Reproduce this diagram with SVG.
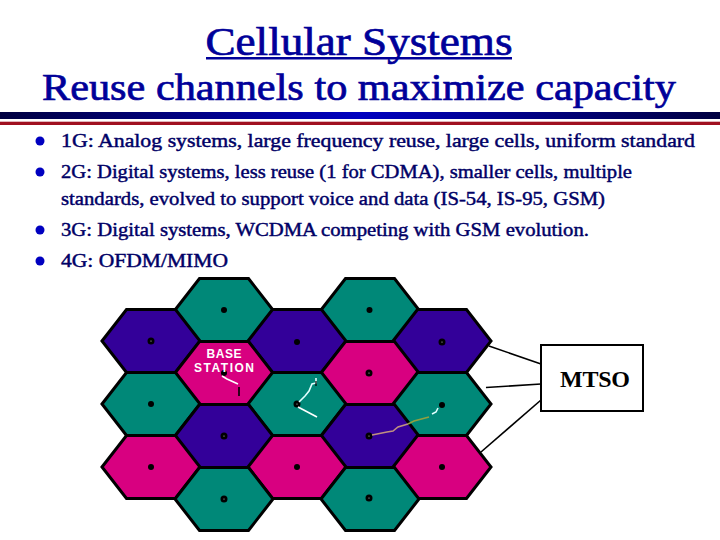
<svg xmlns="http://www.w3.org/2000/svg" width="720" height="540" viewBox="0 0 720 540">
<defs>
<linearGradient id="bar" x1="0" x2="1" y1="0" y2="0"><stop offset="0" stop-color="#000040"/><stop offset="0.5" stop-color="#0000c0"/><stop offset="1" stop-color="#000040"/></linearGradient>
<polygon id="hex" points="-49,0 -24.5,-31.5 24.5,-31.5 49,0 24.5,31.5 -24.5,31.5"/>
</defs>
<style>
text{font-family:"Liberation Serif","Times New Roman",serif}
.ti{fill:#000099;stroke:#000099;stroke-width:.7}
.b{font-size:19px;fill:#000066;stroke:#000066;stroke-width:.45}
.h{stroke:#000;stroke-width:3;stroke-linejoin:miter}
.t{fill:#008878}.m{fill:#d80080}.p{fill:#330099}
.s{fill:#000}
.r{fill:#fff;stroke:#000;stroke-width:3}
.l{stroke:#000;fill:none;stroke-width:1.6}
.w{font-family:"Liberation Sans",sans-serif;fill:#fff;font-weight:bold;font-size:12px}
</style>
<rect width="720" height="540" fill="#fff"/>
<g id="title">
<text class="ti" x="359" y="55" text-anchor="middle" font-size="40" textLength="307" lengthAdjust="spacingAndGlyphs">Cellular Systems</text>
<rect x="206" y="57" width="306" height="2.500" fill="#000099"/>
<text class="ti" x="359" y="100" text-anchor="middle" font-size="37" textLength="634" lengthAdjust="spacingAndGlyphs">Reuse channels to maximize capacity</text>
</g>
<rect x="0" y="112" width="720" height="7" fill="url(#bar)"/>
<rect x="0" y="121.700" width="720" height="3.300" fill="#a01020"/>
<g id="bullets" fill="#0000c0">
<circle cx="40" cy="141" r="4.500"/><circle cx="40" cy="172" r="4.500"/><circle cx="40" cy="230" r="4.500"/><circle cx="40" cy="261" r="4.500"/>
</g>
<g id="text">
<text class="b" x="61" y="147" textLength="634" lengthAdjust="spacingAndGlyphs">1G: Analog systems, large frequency reuse, large cells, uniform standard</text>
<text class="b" x="61" y="178" textLength="571" lengthAdjust="spacingAndGlyphs">2G: Digital systems, less reuse (1 for CDMA), smaller cells, multiple</text>
<text class="b" x="61" y="205" textLength="544" lengthAdjust="spacingAndGlyphs">standards, evolved to support voice and data (IS-54, IS-95, GSM)</text>
<text class="b" x="61" y="236" textLength="528" lengthAdjust="spacingAndGlyphs">3G: Digital systems, WCDMA competing with GSM evolution.</text>
<text class="b" x="61" y="267" textLength="167" lengthAdjust="spacingAndGlyphs">4G: OFDM/MIMO</text>
</g>
<g id="connectors">
<path class="l" d="M489 346L541 364"/>
<path class="l" d="M486 387.500L541 384"/>
<path class="l" d="M481 452L541 400"/>
</g>
<g id="cells">
<use href="#hex" x="224" y="310" class="h t"/>
<use href="#hex" x="370" y="310" class="h t"/>
<use href="#hex" x="151" y="341" class="h p"/>
<use href="#hex" x="297" y="341" class="h p"/>
<use href="#hex" x="442" y="341" class="h p"/>
<use href="#hex" x="224" y="373" class="h m"/>
<use href="#hex" x="370" y="373" class="h m"/>
<use href="#hex" x="151" y="404" class="h t"/>
<use href="#hex" x="297" y="404" class="h t"/>
<use href="#hex" x="442" y="404" class="h t"/>
<use href="#hex" x="224" y="436" class="h p"/>
<use href="#hex" x="370" y="436" class="h p"/>
<use href="#hex" x="151" y="467" class="h m"/>
<use href="#hex" x="297" y="467" class="h m"/>
<use href="#hex" x="442" y="467" class="h m"/>
<use href="#hex" x="224" y="499" class="h t"/>
<use href="#hex" x="370" y="499" class="h t"/>
</g>
<g id="stations">
<circle class="s" cx="224" cy="310" r="3"/><circle class="s" cx="369.500" cy="310" r="3"/>
<circle class="r" cx="151" cy="341" r="2"/><circle class="s" cx="297" cy="342" r="3"/><circle class="r" cx="442" cy="342" r="2"/>
<circle class="s" cx="224" cy="373" r="3"/><circle class="r" cx="369" cy="373" r="2"/>
<circle class="s" cx="151" cy="404" r="3"/><circle class="r" cx="297" cy="404" r="2"/><circle class="s" cx="442" cy="405" r="3"/>
<circle class="r" cx="224" cy="436" r="2"/><circle class="r" cx="369" cy="436" r="2"/>
<circle class="s" cx="151" cy="467" r="3"/><circle class="s" cx="297" cy="467" r="3"/><circle class="s" cx="442" cy="467" r="3"/>
<circle class="r" cx="224" cy="499" r="2"/><circle class="r" cx="369" cy="498" r="2"/>
</g>
<g id="mobiles" fill="none" stroke-width="1.600">
<path stroke="#fff" d="M222 376L227 379L238 384"/><path stroke="#000" d="M239 387V396"/>
<path stroke="#e0ffff" d="M299 402L305 396L309 391L312 384L316 383L316 378"/><path stroke="#000" stroke-width="1.200" d="M316 381V386"/>
<path stroke="#fff" d="M298 407L317 417"/>
<path stroke="#c09080" d="M372 435L387 432L393 431L398 427L408 424"/><path stroke="#90a040" d="M408 424L414 421L429 417"/>
<path stroke="#e0ffff" d="M432 414L436 412L438 408"/>
</g>
<g id="label">
<text class="w" x="224" y="358" text-anchor="middle" textLength="35">BASE</text>
<text class="w" x="224" y="372" text-anchor="middle" textLength="60">STATION</text>
</g>
<g id="mtso">
<rect x="541" y="345" width="102" height="66" fill="#fff" stroke="#000" stroke-width="2"/>
<text x="595" y="387" text-anchor="middle" font-size="24" font-weight="bold" fill="#000" textLength="70">MTSO</text>
</g>
</svg>
